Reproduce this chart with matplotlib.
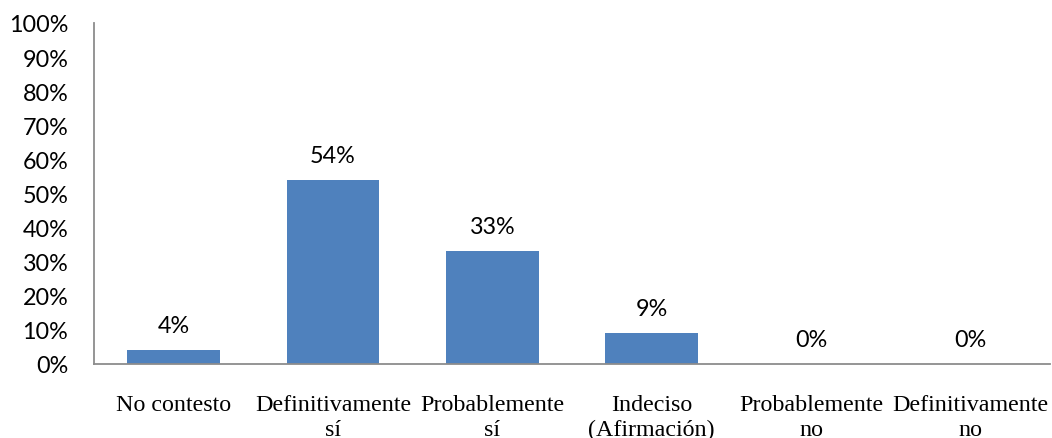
import matplotlib
matplotlib.use("Agg")
import matplotlib.pyplot as plt
import numpy as np

categories = ["No contesto", "Definitivamente\nsí", "Probablemente\nsí",
              "Indeciso\n(Afirmación)", "Probablemente\nno", "Definitivamente\nno"]
values = [4, 54, 33, 9, 0, 0]
yticks = [0, 10, 20, 30, 40, 50, 60, 70, 80, 90, 100]
ytick_labels = [f"{v}%" for v in yticks]

fig = plt.figure(figsize=(10.52, 4.39), dpi=100)
ax = fig.add_axes([94/1052, 1 - 364.5/439, (1050-94)/1052, (364.5-24)/439])

x = np.arange(len(categories))
bars = ax.bar(x, values, width=0.58, color="#4F81BD", zorder=2)

ax.set_xlim(-0.5, len(categories) - 0.5)
ax.set_ylim(0, 100)
ax.set_yticks(yticks)
ax.set_yticklabels(ytick_labels, fontfamily="Lato", fontsize=16.8)
ax.set_xticks(x)
ax.set_xticklabels(categories, fontfamily="Liberation Serif", fontsize=17.3,
                   linespacing=1.22)
ax.tick_params(axis="y", length=0, pad=18.5)
ax.tick_params(axis="x", length=0, pad=22)

for s in ["top", "right"]:
    ax.spines[s].set_visible(False)
for s in ["left", "bottom"]:
    ax.spines[s].set_color("#8c8c8c")
    ax.spines[s].set_linewidth(1.3)

for xi, v in zip(x, values):
    ax.annotate(f"{v}%", (xi, v), xytext=(0, 10), textcoords="offset points",
                ha="center", va="bottom", fontfamily="Lato", fontsize=16.8)

fig.savefig("out.png", dpi=100)
